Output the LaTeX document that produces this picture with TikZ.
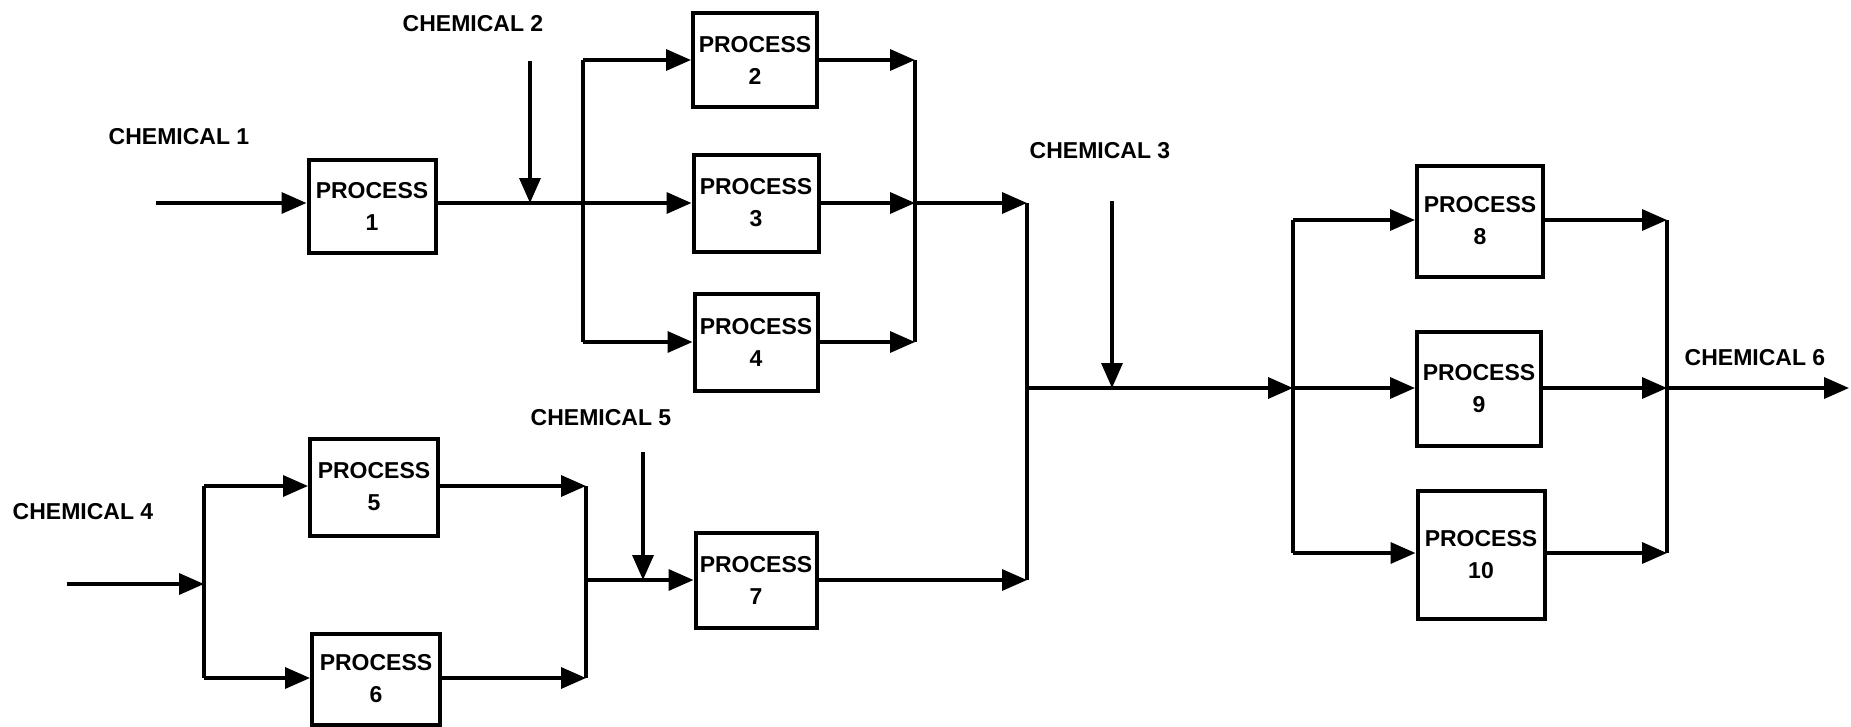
\documentclass[tikz,border=0pt]{standalone}
\usepackage{fontspec}
\setmainfont{Liberation Sans}
\usetikzlibrary{arrows.meta}
\begin{document}
\begin{tikzpicture}[x=1pt,y=-1pt,
  txt/.style={font=\bfseries\fontsize{23}{29}\selectfont,inner sep=0pt},
  proc/.style={draw,line width=4pt,align=center,inner sep=0pt,font=\bfseries\fontsize{23}{32}\selectfont},
  flow/.style={line width=3.5pt,-{Triangle[length=25pt,width=21pt]}},
  pipe/.style={line width=3.5pt}]
\useasboundingbox (0,0) rectangle (1851,726);
% process boxes
\node[proc,minimum width=127pt,minimum height=93pt] (p1) at (372,206) {PROCESS\\1};
\node[proc,minimum width=124pt,minimum height=94pt] (p2) at (755,60) {PROCESS\\2};
\node[proc,minimum width=125pt,minimum height=97pt] (p3) at (756,203) {PROCESS\\3};
\node[proc,minimum width=123pt,minimum height=97pt] (p4) at (756,342) {PROCESS\\4};
\node[proc,minimum width=128pt,minimum height=97pt] (p5) at (374,487) {PROCESS\\5};
\node[proc,minimum width=128pt,minimum height=91pt] (p6) at (376,679) {PROCESS\\6};
\node[proc,minimum width=121pt,minimum height=95pt] (p7) at (756,580) {PROCESS\\7};
\node[proc,minimum width=126pt,minimum height=111pt] (p8) at (1480,221) {PROCESS\\8};
\node[proc,minimum width=124pt,minimum height=114pt] (p9) at (1479,389) {PROCESS\\9};
\node[proc,minimum width=127pt,minimum height=128pt] (p10) at (1481,555) {PROCESS\\10};
% labels
\node[txt] (ch1) at (179,137) {CHEMICAL 1};
\node[txt] (ch2) at (473,24) {CHEMICAL 2};
\node[txt] (ch3) at (1100,151) {CHEMICAL 3};
\node[txt] (ch4) at (83,512) {CHEMICAL 4};
\node[txt] (ch5) at (601,418) {CHEMICAL 5};
\node[txt] (ch6) at (1755,358) {CHEMICAL 6};
% coordinates
\coordinate (c1in) at (156,203);
\coordinate (aTop) at (583,60);
\coordinate (aMid) at (583,203);
\coordinate (aBot) at (583,342);
\coordinate (bTop) at (915,60);
\coordinate (bMid) at (915,203);
\coordinate (bBot) at (915,342);
\coordinate (c2top) at (530,61);
\coordinate (c2bot) at (530,203);
\coordinate (mTop) at (1027,203);
\coordinate (mMid) at (1027,388);
\coordinate (mBot) at (1027,580);
\coordinate (c4in) at (67,584);
\coordinate (dMid) at (204,584);
\coordinate (dTop) at (204,486);
\coordinate (dBot) at (204,678);
\coordinate (cTop) at (586,486);
\coordinate (cMid) at (586,580);
\coordinate (cBot) at (586,678);
\coordinate (c5top) at (643,452);
\coordinate (c5bot) at (643,580);
\coordinate (c3top) at (1112,201);
\coordinate (c3bot) at (1112,388);
\coordinate (eTop) at (1293,220);
\coordinate (eMid) at (1293,388);
\coordinate (eBot) at (1293,553);
\coordinate (fTop) at (1667,220);
\coordinate (fMid) at (1667,388);
\coordinate (fBot) at (1667,553);
\coordinate (out) at (1849,388);
% upper-left section
\draw[flow] (c1in) -- (p1.west |- c1in);
\draw[pipe] (p1.east |- c1in) -- (aMid);
\draw[flow] (c2top) -- (c2bot);
\draw[pipe] (aTop) -- (aBot);
\draw[flow] (aTop) -- (p2.west);
\draw[flow] (aMid) -- (p3.west);
\draw[flow] (aBot) -- (p4.west);
\draw[flow] (p2.east) -- (bTop);
\draw[flow] (p3.east) -- (bMid);
\draw[flow] (p4.east) -- (bBot);
\draw[pipe] (bTop) -- (bBot);
\draw[flow] (bMid) -- (mTop);
\draw[pipe] (mTop) -- (mBot);
% lower-left section
\draw[flow] (c4in) -- (dMid);
\draw[pipe] (dTop) -- (dBot);
\draw[flow] (dTop) -- (p5.west |- dTop);
\draw[flow] (dBot) -- (p6.west |- dBot);
\draw[flow] (p5.east |- cTop) -- (cTop);
\draw[flow] (p6.east |- cBot) -- (cBot);
\draw[pipe] (cTop) -- (cBot);
\draw[flow] (cMid) -- (p7.west);
\draw[flow] (c5top) -- (c5bot);
\draw[flow] (p7.east) -- (mBot);
% right section
\draw[flow] (mMid) -- (eMid);
\draw[flow] (c3top) -- (c3bot);
\draw[pipe] (eTop) -- (eBot);
\draw[flow] (eTop) -- (p8.west |- eTop);
\draw[flow] (eMid) -- (p9.west |- eMid);
\draw[flow] (eBot) -- (p10.west |- eBot);
\draw[flow] (p8.east |- fTop) -- (fTop);
\draw[flow] (p9.east |- fMid) -- (fMid);
\draw[flow] (p10.east |- fBot) -- (fBot);
\draw[pipe] (fTop) -- (fBot);
\draw[flow] (fMid) -- (out);
\end{tikzpicture}
\end{document}
